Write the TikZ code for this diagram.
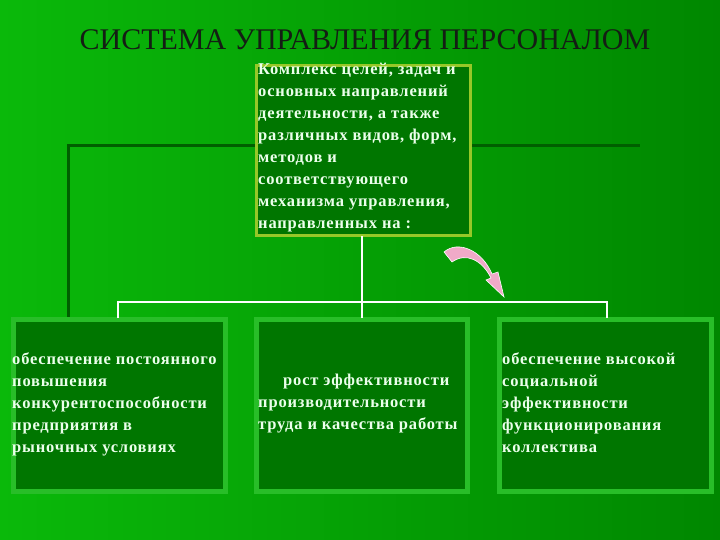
\documentclass[tikz,border=0pt]{standalone}
\usepackage{fontspec}
\setmainfont{Liberation Serif}
\definecolor{bgl}{RGB}{10,185,10}
\definecolor{bgr}{RGB}{0,135,0}
\definecolor{boxf}{RGB}{0,118,0}
\definecolor{boxb}{RGB}{40,190,40}
\definecolor{topb}{RGB}{150,200,40}
\definecolor{txt}{RGB}{235,255,235}
\definecolor{pinkc}{RGB}{240,170,200}
\definecolor{darkl}{RGB}{0,95,0}
\begin{document}
\begin{tikzpicture}[x=1pt,y=-1pt,
  lbl/.style={font=\bfseries\fontsize{16.5}{22}\selectfont\addfontfeature{LetterSpace=5},text=txt,align=left,inner sep=0pt,anchor=north west},
  botbox/.style={draw=boxb,line width=2pt,fill=boxf,double=boxb,double distance=1pt},
  conn/.style={draw=white,line width=1.5pt}]
\useasboundingbox (0,0) rectangle (720,540);
\shade[left color=bgl,right color=bgr] (0,0) rectangle (720,540);
\draw[darkl,line width=3pt] (68,320) -- (68,146) -- (640,146);
\node[font=\fontsize{30}{32}\selectfont,text={rgb,255:red,20;green,30;blue,20}] (title) at (365,40) {СИСТЕМА УПРАВЛЕНИЯ ПЕРСОНАЛОМ};
% top box
\draw[topb,line width=3pt,fill=boxf] (256,66) rectangle (470,235);
\coordinate (tb) at (362,236);
\node[lbl] (top) at (258,63) {Комплекс целей, задач и\\основных направлений\\деятельности, а также\\различных видов, форм,\\методов и\\соответствующего\\механизма управления,\\направленных на :};
% bottom boxes
\draw[botbox] (13,319) rectangle (225,491);
\draw[botbox] (256,319) rectangle (467,491);
\draw[botbox] (499,319) rectangle (711,491);
\coordinate (b1) at (118,318);
\coordinate (b2) at (362,318);
\coordinate (b3) at (607,318);
\coordinate (h2) at (362,302);
\draw[conn] (tb) -- (h2);
\draw[conn] (b1) |- (h2) -| (b3);
\draw[conn] (h2) -- (b2);
\node[lbl] (l1) at (12,352) {обеспечение постоянного\\повышения\\конкурентоспособности\\предприятия в\\рыночных условиях};
\node[lbl] (l2) at (258,374) {\hspace*{25pt}рост эффективности\\производительности\\труда и качества работы};
\node[lbl] (l3) at (502,352) {обеспечение высокой\\социальной\\эффективности\\функционирования\\коллектива};
% pink arrow
\fill[pinkc,draw=white,line width=0.6pt] (444,252) .. controls (458,240) and (482,250) .. (492,274)
 -- (498,272) -- (504,297) -- (486,280) -- (491,278) .. controls (482,260) and (466,252) .. (452,262) -- cycle;
\end{tikzpicture}
\end{document}
